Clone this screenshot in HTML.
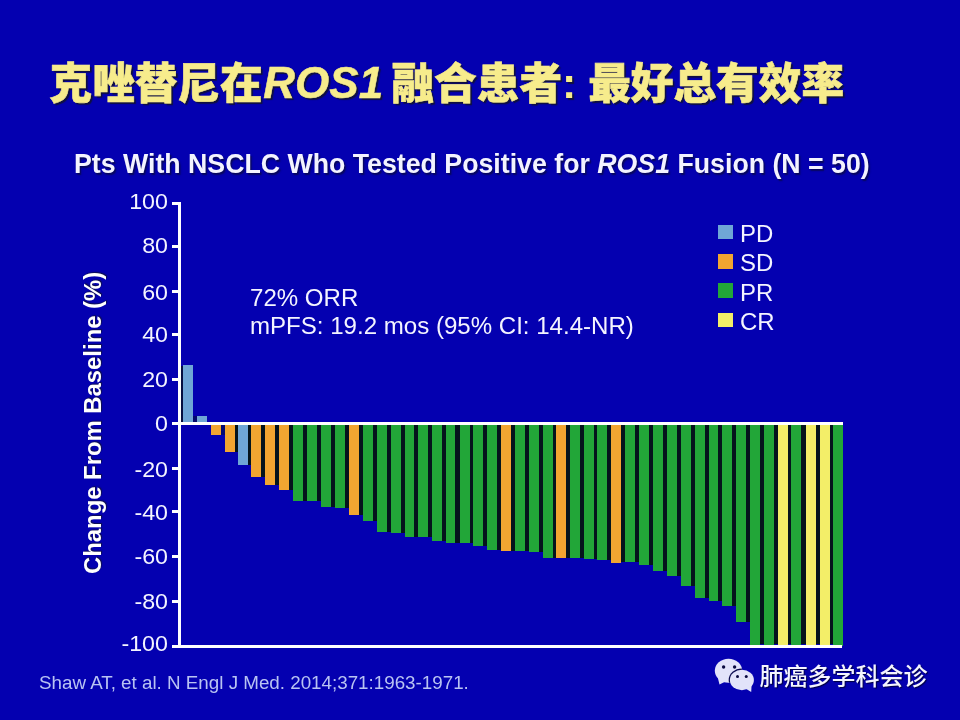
<!DOCTYPE html>
<html lang="zh"><head><meta charset="utf-8"><title>克唑替尼在ROS1 融合患者: 最好总有效率</title>
<style>
html,body{margin:0;padding:0}
body{width:960px;height:720px;overflow:hidden;background:#0400B0;position:relative;font-family:"Liberation Sans","Noto Sans CJK SC",sans-serif;color:#fff}
i{font-style:normal}
.abs,.b,.s,.t,.yl,.w{position:absolute;display:block}
.s{background:#05141c}
.w{background:#fff}
.t{background:#fff;left:172px;width:7px;height:3px}
.yl{left:68px;width:100px;height:26px;line-height:26px;text-align:right;font-size:22.8px;transform:scaleX(1.02);transform-origin:right center;color:#f4f4ff}
#title{left:49.5px;top:51px;height:64px;line-height:64px;font-size:42.67px;font-weight:bold;color:#F7EC8C;white-space:nowrap;text-shadow:2px 2px 1px #101040}
#title em{font-style:italic;font-size:44px;margin-right:-3px;-webkit-text-stroke:0.5px #F7EC8C;position:relative;left:.5px}
#title b{position:relative;top:1px;-webkit-text-stroke:0.6px #F7EC8C}
#sub{left:74px;top:147.8px;height:32px;line-height:32px;font-size:26.72px;font-weight:bold;color:#F3F3FF;white-space:nowrap;text-shadow:1.5px 1.5px 1.5px rgba(10,10,70,.8)}
#ylab{left:0;top:0;font-size:23.5px;font-weight:bold;white-space:nowrap;height:26px;line-height:26px;transform-origin:0 0;transform:translate(79.5px,574px) rotate(-90deg) scaleX(1.015);text-shadow:1px 1px 1px #101050}
.ann{left:250px;font-size:23.5px;height:28px;line-height:28px;white-space:nowrap;transform:scaleX(1.024);transform-origin:left center;color:#f4f4ff}
.lg{left:718px;width:15px;height:14.5px}
.lt{left:740.3px;font-size:23.5px;height:26px;line-height:26px;transform:scaleX(1.02);transform-origin:left center;color:#f4f4ff}
#cite{left:39px;top:671px;height:24px;line-height:24px;font-size:18.8px;color:#B9C3F2;white-space:nowrap}
#wm{left:759.5px;top:661.3px;height:32px;line-height:32px;font-size:24px;font-weight:500;color:#F4F5FF;white-space:nowrap;text-shadow:1px 1px 1px #000040}
</style></head><body>
<div id="title" class="abs"><b>克唑替尼在</b><em>ROS1</em> <b>融合患者</b>: <b>最好总有效率</b></div>
<div id="sub" class="abs">Pts With NSCLC Who Tested Positive for <em style="font-style:italic">ROS1</em> Fusion (N = 50)</div>
<div id="ylab" class="abs">Change From Baseline (%)</div>
<i class="t" style="top:202px"></i><span class="yl" style="top:187.7px">100</span>
<i class="t" style="top:245px"></i><span class="yl" style="top:232.4px">80</span>
<i class="t" style="top:290px"></i><span class="yl" style="top:278.55px">60</span>
<i class="t" style="top:333px"></i><span class="yl" style="top:321.4px">40</span>
<i class="t" style="top:378px"></i><span class="yl" style="top:366px">20</span>
<i class="t" style="top:422px"></i><span class="yl" style="top:410.2px">0</span>
<i class="t" style="top:467px"></i><span class="yl" style="top:455.55px">-20</span>
<i class="t" style="top:510px"></i><span class="yl" style="top:498.55px">-40</span>
<i class="t" style="top:555px"></i><span class="yl" style="top:542.8px">-60</span>
<i class="t" style="top:600px"></i><span class="yl" style="top:588.4px">-80</span>
<i class="t" style="top:645px"></i><span class="yl" style="top:630.2px">-100</span>
<i class="s" style="left:220.6px;top:425px;width:4.9px;height:9.5px;opacity:.4"></i>
<i class="s" style="left:234.6px;top:425px;width:3.9px;height:26.75px"></i>
<i class="s" style="left:247.6px;top:425px;width:3.9px;height:39.5px"></i>
<i class="s" style="left:260.6px;top:425px;width:4.9px;height:51.75px"></i>
<i class="s" style="left:274.6px;top:425px;width:4.9px;height:59.75px"></i>
<i class="s" style="left:288.6px;top:425px;width:4.9px;height:64.5px"></i>
<i class="s" style="left:302.6px;top:425px;width:4.9px;height:75.5px"></i>
<i class="s" style="left:316.6px;top:425px;width:4.9px;height:75.5px"></i>
<i class="s" style="left:330.6px;top:425px;width:4.9px;height:81.5px"></i>
<i class="s" style="left:344.6px;top:425px;width:4.9px;height:82.5px"></i>
<i class="s" style="left:358.6px;top:425px;width:4.9px;height:89.75px"></i>
<i class="s" style="left:372.6px;top:425px;width:4.9px;height:95.75px"></i>
<i class="s" style="left:386.6px;top:425px;width:4.9px;height:106.75px"></i>
<i class="s" style="left:400.6px;top:425px;width:4.4px;height:107.75px"></i>
<i class="s" style="left:414.1px;top:425px;width:4.4px;height:111.5px"></i>
<i class="s" style="left:427.6px;top:425px;width:4.65px;height:111.5px"></i>
<i class="s" style="left:441.35px;top:425px;width:4.65px;height:115.5px"></i>
<i class="s" style="left:455.1px;top:425px;width:5.15px;height:117.5px"></i>
<i class="s" style="left:469.35px;top:425px;width:4.15px;height:117.5px"></i>
<i class="s" style="left:482.6px;top:425px;width:4.65px;height:120.5px"></i>
<i class="s" style="left:496.35px;top:425px;width:5.15px;height:124.5px"></i>
<i class="s" style="left:510.6px;top:425px;width:4.9px;height:125.5px"></i>
<i class="s" style="left:524.6px;top:425px;width:4.9px;height:125.5px"></i>
<i class="s" style="left:538.6px;top:425px;width:4.65px;height:126.5px"></i>
<i class="s" style="left:552.35px;top:425px;width:4.15px;height:132.5px"></i>
<i class="s" style="left:565.6px;top:425px;width:4.9px;height:132.5px"></i>
<i class="s" style="left:579.6px;top:425px;width:4.75px;height:132.5px"></i>
<i class="s" style="left:593.45px;top:425px;width:4px;height:133.5px"></i>
<i class="s" style="left:606.55px;top:425px;width:4.8px;height:134.5px"></i>
<i class="s" style="left:620.45px;top:425px;width:4.9px;height:136.5px"></i>
<i class="s" style="left:634.45px;top:425px;width:5px;height:136.5px"></i>
<i class="s" style="left:648.55px;top:425px;width:4.9px;height:140.25px"></i>
<i class="s" style="left:662.55px;top:425px;width:4.7px;height:146.25px"></i>
<i class="s" style="left:676.35px;top:425px;width:5.15px;height:151.25px"></i>
<i class="s" style="left:690.6px;top:425px;width:4.65px;height:161.25px"></i>
<i class="s" style="left:704.35px;top:425px;width:4.65px;height:173.25px"></i>
<i class="s" style="left:718.1px;top:425px;width:4.65px;height:175.5px"></i>
<i class="s" style="left:731.85px;top:425px;width:4.65px;height:181.25px"></i>
<i class="s" style="left:745.6px;top:425px;width:4.65px;height:197px"></i>
<i class="s" style="left:759.35px;top:425px;width:5.15px;height:219px"></i>
<i class="s" style="left:773.6px;top:425px;width:4.75px;height:219px"></i>
<i class="s" style="left:787.45px;top:425px;width:3.8px;height:219px"></i>
<i class="s" style="left:800.35px;top:425px;width:5.9px;height:219px"></i>
<i class="s" style="left:815.35px;top:425px;width:4.9px;height:219px"></i>
<i class="s" style="left:829.35px;top:425px;width:4px;height:219px"></i>
<i class="s" style="left:181px;top:366px;width:2.4px;height:56px;opacity:.75"></i>
<i class="s" style="left:192.9px;top:416px;width:4.05px;height:6px;opacity:.45"></i>
<i class="b" style="left:183.2px;top:365px;width:9.7px;height:57px;background:#6FA6D6"></i>
<i class="b" style="left:196.95px;top:416px;width:9.7px;height:6px;background:#6FA6D6"></i>
<i class="b" style="left:211.2px;top:425px;width:9.7px;height:9.5px;background:#F2A531"></i>
<i class="b" style="left:225.2px;top:425px;width:9.7px;height:26.75px;background:#F2A531"></i>
<i class="b" style="left:238.2px;top:425px;width:9.7px;height:39.5px;background:#6FA6D6"></i>
<i class="b" style="left:251.2px;top:425px;width:9.7px;height:51.75px;background:#F2A531"></i>
<i class="b" style="left:265.2px;top:425px;width:9.7px;height:59.75px;background:#F2A531"></i>
<i class="b" style="left:279.2px;top:425px;width:9.7px;height:64.5px;background:#F2A531"></i>
<i class="b" style="left:293.2px;top:425px;width:9.7px;height:75.5px;background:#22A638"></i>
<i class="b" style="left:307.2px;top:425px;width:9.7px;height:75.5px;background:#22A638"></i>
<i class="b" style="left:321.2px;top:425px;width:9.7px;height:81.5px;background:#22A638"></i>
<i class="b" style="left:335.2px;top:425px;width:9.7px;height:82.5px;background:#22A638"></i>
<i class="b" style="left:349.2px;top:425px;width:9.7px;height:89.75px;background:#F2A531"></i>
<i class="b" style="left:363.2px;top:425px;width:9.7px;height:95.75px;background:#22A638"></i>
<i class="b" style="left:377.2px;top:425px;width:9.7px;height:106.75px;background:#22A638"></i>
<i class="b" style="left:391.2px;top:425px;width:9.7px;height:107.75px;background:#22A638"></i>
<i class="b" style="left:404.7px;top:425px;width:9.7px;height:111.5px;background:#22A638"></i>
<i class="b" style="left:418.2px;top:425px;width:9.7px;height:111.5px;background:#22A638"></i>
<i class="b" style="left:431.95px;top:425px;width:9.7px;height:115.5px;background:#22A638"></i>
<i class="b" style="left:445.7px;top:425px;width:9.7px;height:117.5px;background:#22A638"></i>
<i class="b" style="left:459.95px;top:425px;width:9.7px;height:117.5px;background:#22A638"></i>
<i class="b" style="left:473.2px;top:425px;width:9.7px;height:120.5px;background:#22A638"></i>
<i class="b" style="left:486.95px;top:425px;width:9.7px;height:124.5px;background:#22A638"></i>
<i class="b" style="left:501.2px;top:425px;width:9.7px;height:125.5px;background:#F2A531"></i>
<i class="b" style="left:515.2px;top:425px;width:9.7px;height:125.5px;background:#22A638"></i>
<i class="b" style="left:529.2px;top:425px;width:9.7px;height:126.5px;background:#22A638"></i>
<i class="b" style="left:542.95px;top:425px;width:9.7px;height:132.5px;background:#22A638"></i>
<i class="b" style="left:556.2px;top:425px;width:9.7px;height:132.5px;background:#F2A531"></i>
<i class="b" style="left:570.2px;top:425px;width:9.7px;height:132.5px;background:#22A638"></i>
<i class="b" style="left:584.05px;top:425px;width:9.7px;height:133.5px;background:#22A638"></i>
<i class="b" style="left:597.15px;top:425px;width:9.7px;height:134.5px;background:#22A638"></i>
<i class="b" style="left:611.05px;top:425px;width:9.7px;height:137.5px;background:#F2A531"></i>
<i class="b" style="left:625.05px;top:425px;width:9.7px;height:136.5px;background:#22A638"></i>
<i class="b" style="left:639.15px;top:425px;width:9.7px;height:140.25px;background:#22A638"></i>
<i class="b" style="left:653.15px;top:425px;width:9.7px;height:146.25px;background:#22A638"></i>
<i class="b" style="left:666.95px;top:425px;width:9.7px;height:151.25px;background:#22A638"></i>
<i class="b" style="left:681.2px;top:425px;width:9.7px;height:161.25px;background:#22A638"></i>
<i class="b" style="left:694.95px;top:425px;width:9.7px;height:173.25px;background:#22A638"></i>
<i class="b" style="left:708.7px;top:425px;width:9.7px;height:175.5px;background:#22A638"></i>
<i class="b" style="left:722.45px;top:425px;width:9.7px;height:181.25px;background:#22A638"></i>
<i class="b" style="left:736.2px;top:425px;width:9.7px;height:197px;background:#22A638"></i>
<i class="b" style="left:749.95px;top:425px;width:9.7px;height:220.5px;background:#22A638"></i>
<i class="b" style="left:764.2px;top:425px;width:9.7px;height:220.5px;background:#22A638"></i>
<i class="b" style="left:778.05px;top:425px;width:9.7px;height:220.5px;background:#F3EE68"></i>
<i class="b" style="left:790.95px;top:425px;width:9.7px;height:220.5px;background:#22A638"></i>
<i class="b" style="left:805.95px;top:425px;width:9.7px;height:220.5px;background:#F3EE68"></i>
<i class="b" style="left:819.95px;top:425px;width:9.7px;height:220.5px;background:#F3EE68"></i>
<i class="b" style="left:833.05px;top:425px;width:9.7px;height:220.5px;background:#22A638"></i>
<i class="w" style="left:178px;top:202px;width:3.2px;height:446px"></i>
<i class="w" style="left:172px;top:422px;width:671px;height:3px"></i>
<i class="w" style="left:172px;top:645px;width:670px;height:3px"></i>
<div class="ann abs" style="top:283.7px">72% ORR</div>
<div class="ann abs" style="top:312.1px">mPFS: 19.2 mos (95% CI: 14.4-NR)</div>
<i class="lg abs" style="top:224.5px;background:#6FA6D6"></i><span class="lt abs" style="top:221.2px">PD</span>
<i class="lg abs" style="top:254px;background:#F2A531"></i><span class="lt abs" style="top:250.2px">SD</span>
<i class="lg abs" style="top:283px;background:#22A638"></i><span class="lt abs" style="top:279.7px">PR</span>
<i class="lg abs" style="top:312.5px;background:#F3EE68"></i><span class="lt abs" style="top:308.7px">CR</span>
<div id="cite" class="abs">Shaw AT, et al. N Engl J Med. 2014;371:1963-1971.</div>
<svg class="abs" style="left:708px;top:652px" width="60" height="45" viewBox="708 652 60 45">
<defs><clipPath id="cb"><ellipse cx="728.500" cy="670.700" rx="13.700" ry="12"/></clipPath></defs>
<path d="M717.800 677.500L719.500 684.600L725.500 681.500Z" fill="#E2E3FA"/>
<ellipse cx="728.500" cy="670.700" rx="13.700" ry="12" fill="#E2E3FA"/>
<ellipse cx="741.900" cy="680" rx="13.200" ry="11.500" fill="#0a0a50" clip-path="url(#cb)"/>
<path d="M751.600 684.500L751.200 692L745.500 688.500Z" fill="#E2E3FA"/>
<ellipse cx="741.900" cy="680" rx="12" ry="10.200" fill="#E2E3FA"/>
<circle cx="723.600" cy="667" r="1.700" fill="#0a0a40"/><circle cx="734.600" cy="667" r="1.700" fill="#0a0a40"/>
<circle cx="737.500" cy="676.400" r="1.500" fill="#0a0a40"/><circle cx="746.250" cy="676.400" r="1.500" fill="#0a0a40"/>
</svg>
<div id="wm" class="abs">肺癌多学科会诊</div>
</body></html>
